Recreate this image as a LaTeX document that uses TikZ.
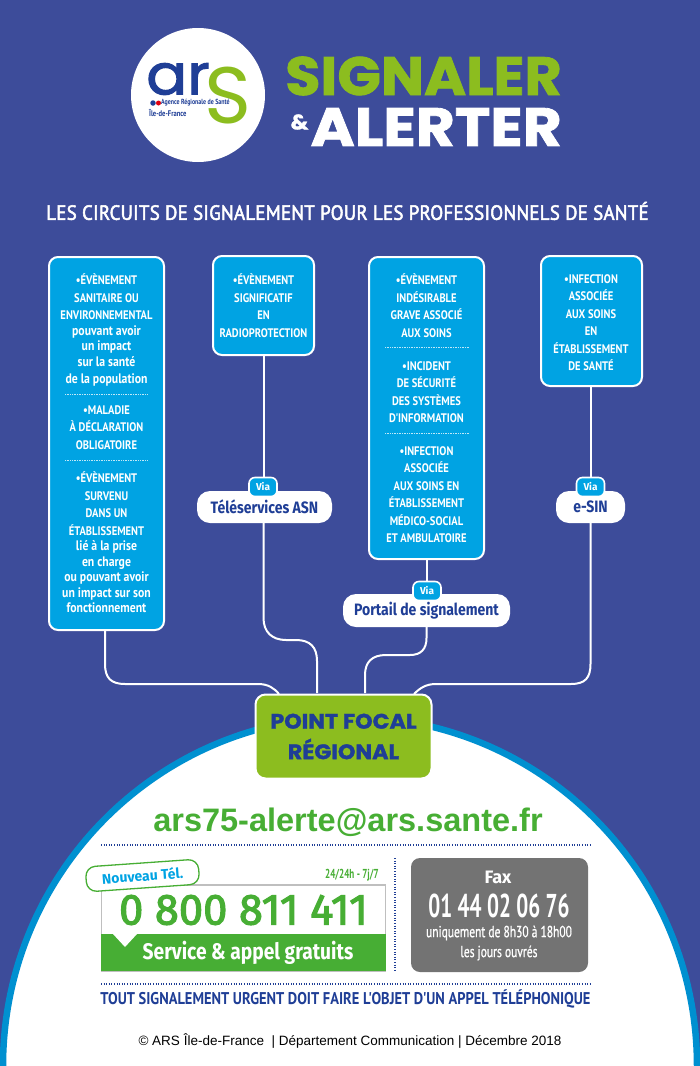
\documentclass[tikz,border=0pt]{standalone}
\usepackage{fontspec}
\usepackage{tikz}
\usetikzlibrary{calc,positioning}
\setmainfont{Liberation Sans}
\newfontfamily\condfont[FakeStretch=0.85]{PT Sans}
\newfontfamily\narrowfont[FakeStretch=0.7]{PT Sans}
\newfontfamily\faxnumfont[FakeStretch=0.64]{PT Sans}
\newfontfamily\hoursfont[FakeStretch=0.72,FakeBold=0.8]{PT Sans}
\newfontfamily\agencefont[FakeStretch=0.8]{PT Sans}
\newfontfamily\headfont[FakeStretch=0.92,LetterSpace=1.4,FakeBold=2.5]{PT Sans}
\newfontfamily\titlefont[FakeStretch=1.06,FakeBold=1.5]{Poppins}
\newfontfamily\alertfont[FakeStretch=1.11,FakeBold=1.5]{Poppins}
\newfontfamily\logofont[FakeStretch=1.08,FakeBold=2]{Poppins}
\newfontfamily\bigsfont{Poppins}
\newfontfamily\firafont{Fira Sans}
\newfontfamily\telfont[FakeBold=2.5]{Fira Sans}
\newfontfamily\firacond[FakeStretch=0.85]{Fira Sans}
\newcommand{\lowline}[1]{{\fontsize{13.8}{17.5}\selectfont #1}}
\definecolor{bgblue}{HTML}{3D4C9A}
\definecolor{boxcyan}{HTML}{00A3E3}
\definecolor{arcblue}{HTML}{0090D0}
\definecolor{navy}{HTML}{1F3E96}
\definecolor{limegreen}{HTML}{8CBD1F}
\definecolor{telgreen}{HTML}{47AE34}
\definecolor{faxgray}{HTML}{737373}
\definecolor{logored}{HTML}{E1000F}
\tikzset{
  infobox/.style={draw=white,line width=2pt,fill=boxcyan,rounded corners=9pt,inner sep=0pt},
  boxtxt/.style={text=white,align=center,inner sep=0pt,anchor=north,font=\condfont\bfseries\fontsize{12.4}{17.5}\selectfont},
  wire/.style={draw=white,line width=2pt},
  sepline/.style={draw=white!75!boxcyan,line width=.7pt,densely dotted},
  pill/.style={fill=white,rounded corners=13pt,inner sep=0pt,text=navy,font=\firacond\bfseries\fontsize{16.5}{18}\selectfont},
  viabadge/.style={draw=white,line width=1.6pt,fill=boxcyan,rounded corners=6pt,inner sep=0pt,minimum width=28pt,minimum height=19pt,text=white,font=\firafont\bfseries\fontsize{10}{11}\selectfont},
  navydots/.style={draw=navy,line width=1.1pt,dash pattern=on 1pt off 1.6pt},
  faxtxt/.style={text=white,inner sep=0pt,font=\hoursfont\fontsize{16}{18}\selectfont}
}
\begin{document}
\begin{tikzpicture}[x=1pt,y=-1pt]
\useasboundingbox (0,0) rectangle (700,1066);
\fill[bgblue] (0,0) rectangle (700,1066);
% dome
\begin{scope}
\clip (0,0) rectangle (700,1066);
\fill[white,draw=arcblue,line width=6.5pt] (350,1066) ellipse (347 and 349);
\end{scope}
% logo
\node[circle,fill=white,minimum size=134pt,inner sep=0pt] (logo) at (198,95) {};
\node[text=navy,inner sep=0pt,font=\logofont\fontsize{56}{56}\selectfont] (ar) at (178,79) {ar};
\node[text=limegreen,inner sep=0pt,font=\bigsfont\fontsize{80}{80}\selectfont] (bigs) at (228,96) {S};
\node[circle,fill=navy,minimum size=5.5pt,inner sep=0pt] (dotblue) at (153,103) {};
\node[circle,fill=logored,minimum size=5pt,inner sep=0pt] (dotred) at (158.5,103) {};
\node[anchor=west,text=navy,inner sep=0pt,font=\agencefont\bfseries\fontsize{7.4}{8}\selectfont] (agence) at (161,103) {Agence Régionale de Santé};
\node[anchor=west,text=navy,inner sep=0pt,font=\agencefont\bfseries\fontsize{8.2}{9}\selectfont] (idf) at (149,113) {Île-de-France};
% title
\node[anchor=east,text=limegreen,inner sep=0pt,font=\titlefont\bfseries\fontsize{54}{54}\selectfont] (signaler) at (562,76) {SIGNALER};
\node[anchor=east,text=white,inner sep=0pt,font=\alertfont\bfseries\fontsize{54}{54}\selectfont] (alerter) at (562,127) {ALERTER};
\node[text=white,inner sep=0pt,font=\titlefont\bfseries\fontsize{21}{21}\selectfont] (amp) at (299.5,122) {\&};
\node[text=white,inner sep=0pt,font=\headfont\fontsize{20.5}{22}\selectfont] (subtitle) at (347.5,211) {LES CIRCUITS DE SIGNALEMENT POUR LES PROFESSIONNELS DE SANTÉ};
% connectors
\node[infobox,minimum width=115pt,minimum height=373pt] (box1) at (106.5,443.5) {};
\node[infobox,minimum width=101pt,minimum height=99pt] (box2) at (263.5,305.5) {};
\node[infobox,minimum width=115pt,minimum height=302pt] (box3) at (426.5,408) {};
\node[infobox,minimum width=101pt,minimum height=130pt] (box4) at (591.5,321) {};
\node[pill,minimum width=135pt,minimum height=32pt] (pill2) at (264.5,507) {Téléservices ASN};
\node[pill,minimum width=167pt,minimum height=33pt] (pill3) at (426.5,610.5) {Portail de signalement};
\node[pill,minimum width=69pt,minimum height=32pt] (pill4) at (590.5,507) {e-SIN};
\node[draw=white,line width=2pt,fill=limegreen,rounded corners=10pt,minimum width=176pt,minimum height=84pt,inner sep=0pt,align=center,text=navy,font=\titlefont\bfseries\fontsize{21}{30.5}\selectfont] (focal) at (343.5,736.5) {POINT FOCAL\\RÉGIONAL};
\draw[wire] ([xshift=-1.5pt]box1.south) -- (105,664) .. controls (105,678) and (111,684) .. (125,684) -- (258,684) .. controls (268,684) and (274,688) .. (279,694);
\draw[wire] (box2.south) -- (box2.south |- pill2.north);
\draw[wire] (box2.south |- pill2.south) -- (263.5,618) .. controls (263.5,632) and (272,640) .. (286,640) -- (296,640) .. controls (310,640) and (317,647) .. (317,661) -- (317,693);
\draw[wire] (box3.south) -- (pill3.north);
\draw[wire] (pill3.south) -- (426.5,638) .. controls (426.5,649) and (421,655) .. (410,655) -- (386,655) .. controls (372,655) and (365,662) .. (365,675) -- (365,693);
\draw[wire] (pill4.north |- box4.south) -- (pill4.north);
\draw[wire] (pill4.south) -- (590.5,664) .. controls (590.5,678) and (585,684) .. (571,684) -- (436,684) .. controls (426,684) and (420,688) .. (414,694);
\node[viabadge] (via2) at (263,487) {Via};
\node[viabadge] (via3) at (427,591) {Via};
\node[viabadge] (via4) at (590.5,487) {Via};
% box texts
\node[boxtxt] (t1a) at (106.5,274) {•ÉVÈNEMENT\\SANITAIRE OU\\ENVIRONNEMENTAL\\[-2pt]\lowline{pouvant avoir}\\[-2pt]\lowline{un impact}\\[-2pt]\lowline{sur la santé}\\\lowline{de la population}};
\draw[sepline] (65,394) -- (148,394);
\node[boxtxt] (t1b) at (106.5,405) {•MALADIE\\À DÉCLARATION\\OBLIGATOIRE};
\draw[sepline] (65,460) -- (148,460);
\node[boxtxt] (t1c) at (106.5,472) {•ÉVÈNEMENT\\SURVENU\\DANS UN\\ÉTABLISSEMENT\\[-2pt]\lowline{lié à la prise}\\[-2pt]\lowline{en charge}\\[-2pt]\lowline{ou pouvant avoir}\\[-2pt]\lowline{un impact sur son}\\[-2pt]\lowline{fonctionnement}};
\node[boxtxt] (t2) at (263.5,274) {•ÉVÈNEMENT\\SIGNIFICATIF\\EN\\RADIOPROTECTION};
\node[boxtxt] (t3a) at (426.5,274) {•ÉVÈNEMENT\\INDÉSIRABLE\\GRAVE ASSOCIÉ\\AUX SOINS};
\draw[sepline] (385,347) -- (469,347);
\node[boxtxt] (t3b) at (426.5,361) {•INCIDENT\\DE SÉCURITÉ\\DES SYSTÈMES\\D'INFORMATION};
\draw[sepline] (385,433) -- (469,433);
\node[boxtxt] (t3c) at (426.5,446) {•INFECTION\\ASSOCIÉE\\AUX SOINS EN\\ÉTABLISSEMENT\\MÉDICO-SOCIAL\\ET AMBULATOIRE};
\node[boxtxt] (t4) at (591,274) {•INFECTION\\ASSOCIÉE\\AUX SOINS\\EN\\ÉTABLISSEMENT\\DE SANTÉ};
% contact block
\node[text=telgreen,inner sep=0pt,font=\bfseries\fontsize{32.5}{34}\selectfont] (mail) at (348,822) {ars75-alerte@ars.sante.fr};
\draw[navydots] (101,845) -- (590,845);
\draw[navydots] (395,858) -- (395,972);
\draw[navydots] (101,984) -- (590,984);
\node[draw=black!25,fill=white,line width=1.5pt,inner sep=0pt,minimum width=284pt,minimum height=86pt] (telbox) at (243.5,928) {};
\fill[telgreen] (101,934) rectangle (386,971);
\fill[white] (113,934) -- (137,934) -- (125,947) -- cycle;
\node[text=telgreen,inner sep=0pt,font=\telfont\fontsize{43.5}{45}\selectfont] (telnum) at (243.5,910) {0 800 811 411};
\node[text=white,inner sep=0pt,font=\firacond\bfseries\fontsize{22.6}{24}\selectfont] (telfree) at (248,953) {Service \& appel gratuits};
\node[anchor=east,text=telgreen,inner sep=0pt,font=\narrowfont\bfseries\fontsize{13}{14}\selectfont] (h24) at (379,875) {24/24h - 7j/7};
\node[draw=telgreen,line width=1.3pt,fill=white,rounded corners=10pt,rotate=4,minimum width=113pt,minimum height=25pt,inner sep=0pt,text=boxcyan,font=\firafont\bfseries\fontsize{14}{15}\selectfont] (nouveau) at (142.5,875.5) {Nouveau Tél.};
\node[fill=faxgray,rounded corners=9pt,minimum width=177pt,minimum height=114pt,inner sep=0pt] (faxbox) at (499.5,915) {};
\node[text=white,inner sep=0pt,font=\firafont\bfseries\fontsize{18}{19}\selectfont] (faxlabel) at (498,877) {Fax};
\node[faxtxt,font=\faxnumfont\bfseries\fontsize{33}{34}\selectfont] (faxnum) at (499,906) {01 44 02 06 76};
\node[faxtxt] (faxhours) at (499,933) {uniquement de 8h30 à 18h00};
\node[faxtxt] (faxdays) at (499,953) {les jours ouvrés};
\node[text=navy,inner sep=0pt,font=\condfont\bfseries\fontsize{17}{18}\selectfont] (urgent) at (345.5,999) {TOUT SIGNALEMENT URGENT DOIT FAIRE L'OBJET D'UN APPEL TÉLÉPHONIQUE};
\node[text=black,inner sep=0pt,font=\fontsize{13.5}{14}\selectfont] (copy) at (350,1041) {© ARS Île-de-France \ | Département Communication | Décembre 2018};
\end{tikzpicture}
\end{document}
